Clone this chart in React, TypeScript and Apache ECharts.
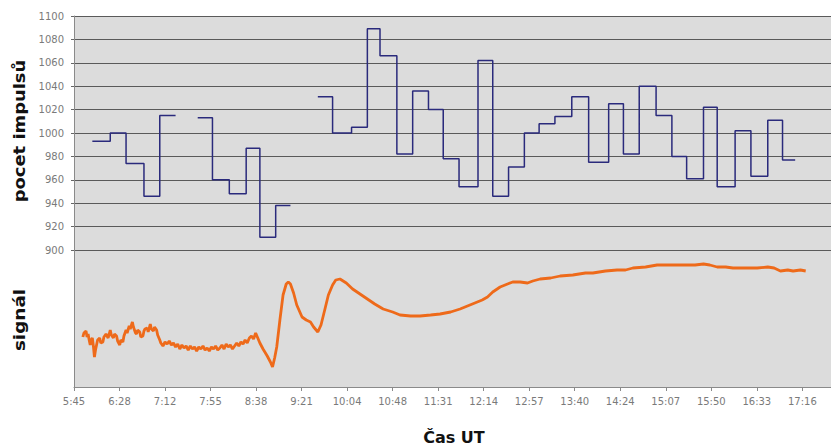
import React, { useEffect, useRef } from "react";
import * as echarts from "echarts";

// x-axis tick labels (every 43.2 minutes starting 5:45:36)
const tickLabels = ["5:45", "6:28", "7:12", "7:55", "8:38", "9:21", "10:04", "10:48", "11:31", "12:14", "12:57", "13:40", "14:24", "15:07", "15:50", "16:33", "17:16"];
const X_MIN = 345.6; // minutes since midnight (5:45:36)
const X_STEP = 43.2;
const X_MAX = 1064;

// impulse counts: interval boundaries (minutes) and one value per interval (null = no data)
const stepBounds = [363, 380, 395, 412, 427, 442, 463, 477, 493, 509, 522, 537, 551, 577, 591, 609, 624, 636, 652, 667, 682, 696, 711, 729, 743, 758, 773, 787, 802, 818, 834, 853, 867, 882, 898, 913, 927, 943, 956, 973, 988, 1004, 1018, 1030];
const stepValues: (number | null)[] = [993, 1000, 974, 946, 1015, null, 1013, 960, 948, 987, 911, 938, null, 1031, 1000, 1005, 1089, 1066, 982, 1036, 1020, 978, 954, 1062, 946, 971, 1000, 1008, 1014, 1031, 975, 1025, 982, 1040, 1015, 980, 961, 1022, 954, 1002, 963, 1011, 977];

// signal (arbitrary units) sampled over time (minutes)
const sigTime = [
  354, 355, 357, 358, 359, 360, 361, 362, 363, 364, 365, 366, 367, 368, 370, 371, 373, 374, 376, 378, 380, 381, 383, 384, 386, 387, 389, 390, 392, 393,
  395, 396, 398, 399, 401, 402, 403, 404, 405, 406, 408, 409, 411, 412, 413, 415, 416, 418, 419, 421, 422, 424, 425, 427, 428,
  430, 432, 434, 436, 438, 440, 442, 444, 446, 448, 450, 452, 454, 456, 458, 460, 462, 464, 466, 468, 470, 472, 474, 476, 478, 480, 482, 484, 486, 488, 490,
  492, 494, 496, 498, 500, 502, 504, 506, 508, 510, 512, 514, 516, 518, 520, 522,
  525, 529, 532, 534, 536, 538, 541, 544, 547, 549, 551, 554, 557, 562, 566, 570, 573, 577, 580, 584, 587, 591, 594, 598, 604, 610, 617, 624, 631, 639, 648, 655,
  665, 674, 684, 693, 703, 712, 719, 726, 733, 738, 743, 750, 757, 762, 769, 776, 781, 788, 798, 807, 819, 831, 838, 850, 861, 869, 876, 888, 899, 911, 924, 935,
  943, 949, 956, 964, 971, 983, 994, 1004, 1010, 1016, 1023, 1028, 1035, 1040,
];
const sigValue = [
  50, 54, 56, 50, 53, 47, 42, 47, 49, 41, 30, 37, 42, 47, 49, 44, 45, 50, 53, 49, 57, 52, 49, 53, 51, 46, 42, 47, 45, 51,
  57, 54, 61, 58, 65, 60, 57, 54, 53, 57, 55, 50, 51, 56, 58, 59, 55, 63, 58, 56, 60, 57, 52, 47, 44,
  41, 45, 43, 46, 42, 44, 40, 43, 38, 42, 39, 41, 37, 41, 38, 40, 36, 40, 38, 41, 37, 39, 36, 40, 38, 41, 37, 39, 42, 38, 43,
  40, 42, 38, 41, 44, 41, 45, 43, 47, 44, 49, 51, 48, 54, 49, 44,
  38, 31, 25, 20, 29, 40, 67, 92, 103, 105, 103, 94, 82, 70, 67, 65, 60, 55, 62, 79, 92, 102, 107, 108, 104, 98, 93, 88, 83, 78, 75, 72,
  71, 71, 72, 73, 75, 78, 81, 84, 87, 90, 95, 100, 103, 105, 105, 104, 106, 108, 109, 111, 112, 114, 114, 116, 117, 117, 119, 120, 122, 122, 122, 122,
  123, 122, 120, 120, 119, 119, 119, 120, 119, 116, 117, 116, 117, 116,
];

const LABEL_FONT = "DejaVu Sans";
const TITLE_FONT = "DejaVu Sans";

export default function App() {
  const ref = useRef<HTMLDivElement>(null);
  useEffect(() => {
    const chart = echarts.init(ref.current!, null, { renderer: "svg" });

    const stepData: any[] = [];
    for (let i = 0; i < stepValues.length; i++) {
      const v = stepValues[i];
      if (v === null) {
        stepData.push([stepBounds[i], null]);
        continue;
      }
      stepData.push([stepBounds[i], v]);
      if (i === stepValues.length - 1 || stepValues[i + 1] === null) {
        stepData.push([stepBounds[i + 1], v]);
      }
    }
    const sigData = sigTime.map((t, i) => [t, sigValue[i]]);

    const fmt = (v: number) => {
      const idx = Math.round((v - X_MIN) / X_STEP);
      if (Math.abs(v - (X_MIN + idx * X_STEP)) > 0.01) return "";
      return tickLabels[idx] ?? "";
    };

    chart.setOption({
      animation: false,
      backgroundColor: "#ffffff",
      grid: [
        { left: 74, right: 0, top: 16, height: 234, show: true, backgroundColor: "#dcdcdc", borderWidth: 0 },
        { left: 74, right: 0, top: 250, height: 137, show: true, backgroundColor: "#dcdcdc", borderWidth: 0 },
      ],
      xAxis: [
        { type: "value", gridIndex: 0, min: X_MIN, max: X_MAX, interval: X_STEP, show: false, splitLine: { show: false } },
        {
          type: "value", gridIndex: 1, min: X_MIN, max: X_MAX, interval: X_STEP,
          axisLine: { show: true, lineStyle: { color: "#8a8a8a", width: 1 } },
          axisTick: { show: true, length: 4, lineStyle: { color: "#8a8a8a" } },
          splitLine: { show: false },
          axisLabel: { formatter: fmt, color: "#7a7a7a", fontSize: 10, fontFamily: LABEL_FONT, margin: 9, showMaxLabel: false },
        },
      ],
      yAxis: [
        {
          type: "value", gridIndex: 0, min: 900, max: 1100, interval: 20,
          axisLine: { show: true, lineStyle: { color: "#8a8a8a", width: 1 } },
          axisTick: { show: true, length: 3, lineStyle: { color: "#666" } },
          splitLine: { show: true, lineStyle: { color: "#5a5a5a", width: 1 } },
          axisLabel: { formatter: (v: number) => String(v), color: "#7a7a7a", fontSize: 10, fontFamily: LABEL_FONT, margin: 10 },
        },
        {
          type: "value", gridIndex: 1, min: 0, max: 137,
          axisLine: { show: true, lineStyle: { color: "#8a8a8a", width: 1 } },
          axisTick: { show: false }, axisLabel: { show: false }, splitLine: { show: false },
        },
      ],
      series: [
        {
          type: "line", xAxisIndex: 0, yAxisIndex: 0, data: stepData, step: "end",
          showSymbol: false, connectNulls: false,
          lineStyle: { color: "#2a2a7c", width: 1.5 },
        },
        {
          type: "line", xAxisIndex: 1, yAxisIndex: 1, data: sigData,
          showSymbol: false,
          lineStyle: { color: "#ee6a1a", width: 2.8 },
        },
      ],
      graphic: [
        {
          type: "text", x: 19, y: 131, rotation: Math.PI / 2, scaleX: 1.12,
          style: { text: "pocet impulsů", fontFamily: TITLE_FONT, fontWeight: "bold", fontSize: 16, fill: "#111", textAlign: "center", textVerticalAlign: "middle" },
        },
        {
          type: "text", x: 19, y: 320, rotation: Math.PI / 2, scaleX: 1.15,
          style: { text: "signál", fontFamily: TITLE_FONT, fontWeight: "bold", fontSize: 16, fill: "#111", textAlign: "center", textVerticalAlign: "middle" },
        },
        {
          type: "text", x: 454, y: 437,
          style: { text: "Čas UT", fontFamily: TITLE_FONT, fontWeight: "bold", fontSize: 16, fill: "#111", textAlign: "center", textVerticalAlign: "middle" },
        },
      ],
    });
    return () => chart.dispose();
  }, []);
  return <div ref={ref} style={{ position: "fixed", left: 0, top: 0, width: 831, height: 446 }} />;
}
